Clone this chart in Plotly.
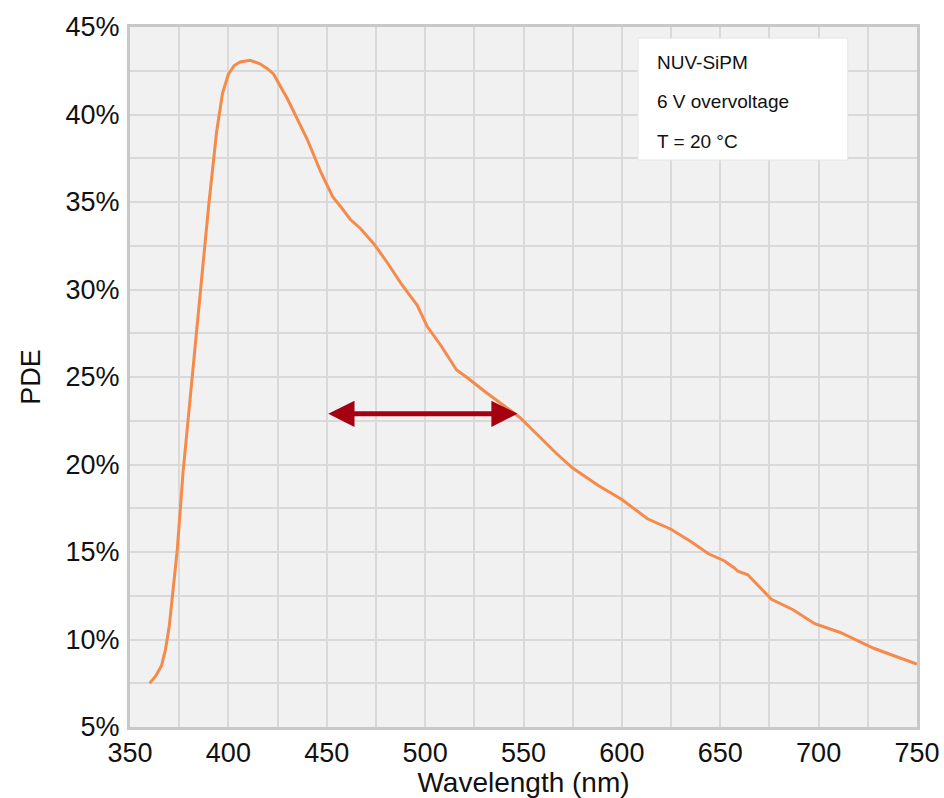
import plotly.graph_objects as go

# Data
wavelength_nm = [360, 363, 366, 368, 370, 372, 374, 377, 380, 382, 385, 387, 390, 394, 397,
                 400, 403, 406, 411, 416, 420, 423, 430, 440, 447, 453, 458, 462, 467, 474,
                 481, 488, 496, 501, 508, 516, 521, 530, 542, 548, 558, 567, 575, 588, 600,
                 613, 625, 635, 644, 652, 657, 659, 664, 670, 676, 687, 698, 711, 720, 728,
                 740, 750]
pde_pct = [7.5, 7.9, 8.5, 9.4, 10.8, 12.8, 15.1, 19.6, 23.0, 25.2, 29.0, 31.3, 34.8, 39.0, 41.2,
           42.3, 42.8, 43.0, 43.1, 42.9, 42.6, 42.3, 40.9, 38.6, 36.7, 35.3, 34.6, 34.0, 33.5, 32.6,
           31.5, 30.3, 29.1, 27.9, 26.8, 25.4, 25.0, 24.2, 23.2, 22.7, 21.6, 20.6, 19.8, 18.8, 18.0,
           16.9, 16.3, 15.6, 14.9, 14.5, 14.1, 13.9, 13.7, 13.0, 12.3, 11.7, 10.9, 10.4, 9.9, 9.5,
           9.0, 8.6]

x_ticks = [350, 400, 450, 500, 550, 600, 650, 700, 750]
y_ticks = [5, 10, 15, 20, 25, 30, 35, 40, 45]
y_tick_labels = ["5%", "10%", "15%", "20%", "25%", "30%", "35%", "40%", "45%"]

arrow_range = [450, 547]   # wavelength span of the double arrow
arrow_level = 22.9         # PDE level of the double arrow

info_lines = ["NUV-SiPM", "6 V overvoltage", "T = 20 °C"]

FONT = "Liberation Sans, Arial, sans-serif"
GRID = "#d9d9d9"
TEXT = "#111111"

fig = go.Figure()
fig.add_trace(go.Scatter(
    x=wavelength_nm, y=pde_pct, mode="lines",
    line=dict(color="#f58a4b", width=3),
    hoverinfo="skip", showlegend=False,
))

fig.update_layout(
    width=944, height=798,
    margin=dict(l=130, r=27, t=27, b=71),
    paper_bgcolor="white",
    plot_bgcolor="#f1f1f1",
    font=dict(family=FONT, size=27, color=TEXT),
    showlegend=False,
    xaxis=dict(
        range=[350, 750], tickmode="array", tickvals=x_ticks,
        ticktext=[str(v) for v in x_ticks],
        showgrid=True, gridcolor=GRID, gridwidth=2,
        minor=dict(dtick=25, showgrid=True, gridcolor=GRID, gridwidth=2),
        showline=True, linecolor="#c8c8c8", linewidth=3, mirror=True,
        ticks="", zeroline=False, ticklabelstandoff=0, automargin=False,
        tickfont=dict(size=27, color=TEXT),
        title=dict(text="Wavelength (nm)", font=dict(size=28, color=TEXT), standoff=0),
    ),
    yaxis=dict(
        range=[5, 45], tickmode="array", tickvals=y_ticks, ticktext=y_tick_labels,
        showgrid=True, gridcolor=GRID, gridwidth=2,
        minor=dict(dtick=2.5, showgrid=True, gridcolor=GRID, gridwidth=2),
        showline=True, linecolor="#c8c8c8", linewidth=3, mirror=True,
        ticks="", zeroline=False, ticklabelstandoff=2, automargin=False,
        tickfont=dict(size=27, color=TEXT),
        title=dict(text="PDE", font=dict(size=27, color=TEXT), standoff=18),
    ),
)

# Double-headed arrow
fig.add_annotation(
    x=arrow_range[1], y=arrow_level, ax=arrow_range[0], ay=arrow_level,
    xref="x", yref="y", axref="x", ayref="y",
    text="", showarrow=True, arrowside="end+start",
    arrowhead=2, startarrowhead=2, arrowsize=1.05, startarrowsize=1.05,
    arrowwidth=5, arrowcolor="#a50012", standoff=0, startstandoff=0,
)

# Info box
fig.add_shape(type="rect", xref="paper", yref="paper",
              x0=0.6455, x1=0.912, y0=0.81, y1=0.984,
              fillcolor="white", line=dict(color="#e6e6e6", width=1), layer="above")
for i, txt in enumerate(info_lines):
    fig.add_annotation(
        x=0.667, y=0.95 - i * 0.057, xref="paper", yref="paper",
        text=txt, showarrow=False, xanchor="left", yanchor="middle",
        font=dict(family=FONT, size=19, color=TEXT),
    )

fig.write_html("out.html", config={"displayModeBar": False},
               post_script="document.body.style.margin='0';document.body.style.overflow='hidden';")
